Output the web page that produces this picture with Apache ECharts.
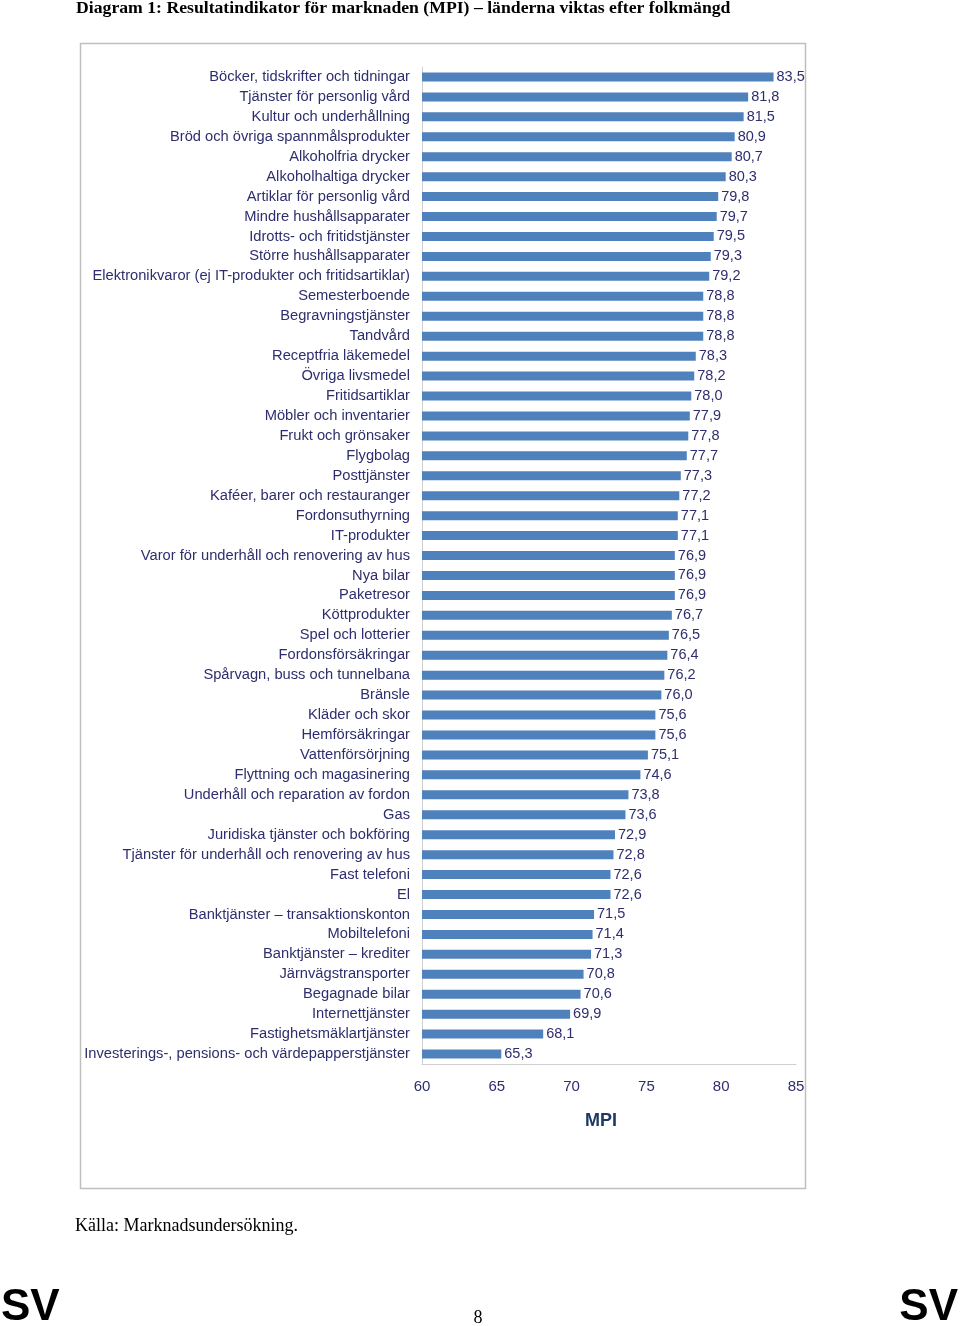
<!DOCTYPE html>
<html><head><meta charset="utf-8">
<script src="https://cdn.jsdelivr.net/npm/echarts@6/dist/echarts.min.js"></script>
<style>html,body{margin:0;padding:0;background:#fff}#c{width:960px;height:1326px}</style>
</head><body><div id="c"></div>
<script>
const categories = [
"Böcker, tidskrifter och tidningar",
"Tjänster för personlig vård",
"Kultur och underhållning",
"Bröd och övriga spannmålsprodukter",
"Alkoholfria drycker",
"Alkoholhaltiga drycker",
"Artiklar för personlig vård",
"Mindre hushållsapparater",
"Idrotts- och fritidstjänster",
"Större hushållsapparater",
"Elektronikvaror (ej IT-produkter och fritidsartiklar)",
"Semesterboende",
"Begravningstjänster",
"Tandvård",
"Receptfria läkemedel",
"Övriga livsmedel",
"Fritidsartiklar",
"Möbler och inventarier",
"Frukt och grönsaker",
"Flygbolag",
"Posttjänster",
"Kaféer, barer och restauranger",
"Fordonsuthyrning",
"IT-produkter",
"Varor för underhåll och renovering av hus",
"Nya bilar",
"Paketresor",
"Köttprodukter",
"Spel och lotterier",
"Fordonsförsäkringar",
"Spårvagn, buss och tunnelbana",
"Bränsle",
"Kläder och skor",
"Hemförsäkringar",
"Vattenförsörjning",
"Flyttning och magasinering",
"Underhåll och reparation av fordon",
"Gas",
"Juridiska tjänster och bokföring",
"Tjänster för underhåll och renovering av hus",
"Fast telefoni",
"El",
"Banktjänster – transaktionskonton",
"Mobiltelefoni",
"Banktjänster – krediter",
"Järnvägstransporter",
"Begagnade bilar",
"Internettjänster",
"Fastighetsmäklartjänster",
"Investerings-, pensions- och värdepapperstjänster"
];
const values = [83.5,81.8,81.5,80.9,80.7,80.3,79.8,79.7,79.5,79.3,79.2,78.8,78.8,78.8,78.3,78.2,78.0,77.9,77.8,77.7,77.3,77.2,77.1,77.1,76.9,76.9,76.9,76.7,76.5,76.4,76.2,76.0,75.6,75.6,75.1,74.6,73.8,73.6,72.9,72.8,72.6,72.6,71.5,71.4,71.3,70.8,70.6,69.9,68.1,65.3];
const xTicks = [60,65,70,75,80,85];

const navy = '#2e2e6e';
const chart = echarts.init(document.getElementById('c'), null, {renderer:'canvas'});
chart.setOption({
  animation:false,
  backgroundColor:'#fff',
  grid:{left:422,right:164,top:67,bottom:262,containLabel:false},
  xAxis:{type:'value',min:xTicks[0],max:xTicks[xTicks.length-1],interval:5,
    axisLine:{show:true,lineStyle:{color:'#d0d0d0',width:1}},
    axisTick:{show:false},splitLine:{show:false},
    axisLabel:{color:navy,fontSize:15,fontFamily:'Liberation Sans, Arial',margin:15}},
  yAxis:{type:'category',data:categories,inverse:true,
    axisLine:{show:true,lineStyle:{color:'#d0d0d0',width:1}},
    axisTick:{show:false},
    axisLabel:{color:navy,fontSize:14.7,fontFamily:'Liberation Sans, Arial',margin:12,interval:0}},
  series:[{type:'bar',data:values,barWidth:9,
    itemStyle:{color:'#4f81bd'},
    label:{show:true,position:'right',distance:3,color:navy,fontSize:14.5,fontFamily:'Liberation Sans, Arial',
      formatter:p=>p.value.toFixed(1).replace('.',',')}}],
  graphic:[
    {type:'rect',shape:{x:80.5,y:43.5,width:725,height:1145},style:{fill:'none',stroke:'#bfbfbf',lineWidth:1.5},z:-1},
    {type:'text',x:76,y:8,style:{text:'Diagram 1: Resultatindikator för marknaden (MPI) – länderna viktas efter folkmängd',font:'bold 17.7px "Liberation Serif", serif',fill:'#000',verticalAlign:'middle'}},
    {type:'text',x:601,y:1121,style:{text:'MPI',font:'bold 18px "Liberation Sans", Arial',fill:'#1f3864',align:'center',verticalAlign:'middle'}},
    {type:'text',x:75,y:1226,style:{text:'Källa: Marknadsundersökning.',font:'18px "Liberation Serif", serif',fill:'#000',verticalAlign:'middle'}},
    {type:'text',x:478,y:1318,style:{text:'8',font:'18px "Liberation Serif", serif',fill:'#000',align:'center',verticalAlign:'middle'}},
    {type:'text',x:1,y:1308,style:{text:'SV',font:'bold 44px "Liberation Sans", Arial',fill:'#000',verticalAlign:'middle'}},
    {type:'text',x:958,y:1308,style:{text:'SV',font:'bold 44px "Liberation Sans", Arial',fill:'#000',align:'right',verticalAlign:'middle'}}
  ]
});
</script></body></html>
